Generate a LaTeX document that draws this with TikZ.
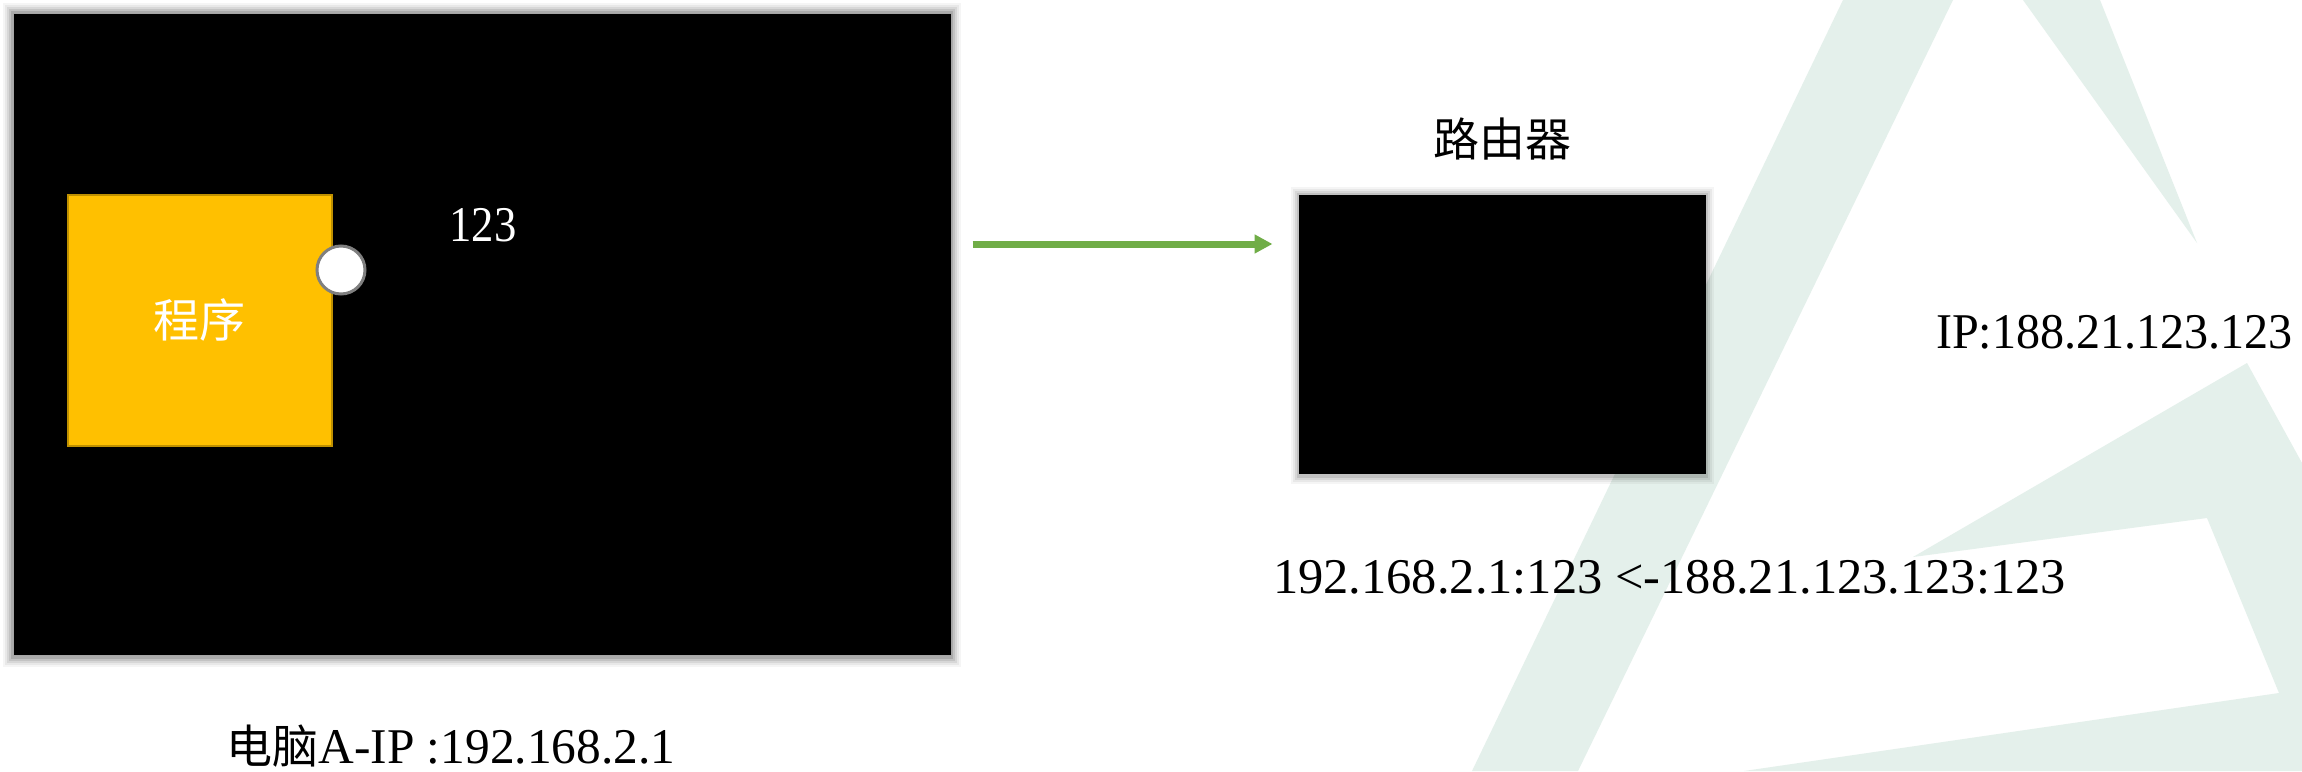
\documentclass[tikz,border=0pt]{standalone}
\usepackage{fontspec}
\setmainfont{Liberation Serif}
\newfontfamily\cjk{Noto Sans CJK SC}
\usepackage{graphicx}
\usetikzlibrary{arrows.meta,calc}
\definecolor{bgmint}{RGB}{228,240,235}
\definecolor{ppyellow}{RGB}{255,192,0}
\definecolor{ppyellowdark}{RGB}{191,144,0}
\definecolor{ppgreen}{RGB}{112,173,71}
\definecolor{ppgrey}{RGB}{127,127,127}
\newcommand\latw[2]{\resizebox{#1}{\height}{#2}}
\begin{document}
\begin{tikzpicture}[x=0.5pt,y=-0.5pt,
  cjktext/.style={inner sep=0pt, font=\cjk\fontsize{23}{23}\selectfont},
  lattext/.style={inner sep=0pt, font=\fontsize{25}{25}\selectfont},
  blackbox/.style={fill=black, draw=gray!70, line width=0.5pt, inner sep=0pt},
  progbox/.style={fill=ppyellow, draw=ppyellowdark, line width=1pt, inner sep=0pt},
  portdot/.style={circle, fill=white, draw=ppgrey, line width=1.5pt, minimum size=24pt, inner sep=0pt},
  greenarrow/.style={draw=ppgreen, line width=3.5pt, -{Triangle[length=9pt,width=9pt]}}]
\useasboundingbox (0,0) rectangle (2302,771);
\fill[white] (0,0) rectangle (2302,771);
% background logo shapes
\fill[bgmint] (1843,0) -- (1953,0) -- (1578,771) -- (1472,771) -- cycle;
\fill[bgmint] (2023,0) -- (2100,0) -- (2197,243) -- cycle;
\fill[bgmint] (1913,557) -- (2247,363) -- (2302,463) -- (2302,771) -- (1744,771) -- (2279,693) -- (2207,518) -- cycle;
% computer box
\coordinate (pcc) at (482,334);
\foreach \d/\o in {10/0.04,8/0.05,6/0.07,4/0.09,2/0.12}
  \fill[black,opacity=\o] ($(pcc)+(-469-\d,-321-\d)$) rectangle ($(pcc)+(469+\d,321+\d+2)$);
\node[blackbox, minimum width=469pt, minimum height=321pt] (pc) at (pcc) {};
\node[progbox, minimum width=132pt, minimum height=125.5pt] (prog) at (200,320.5) {};
\node[cjktext, text=white] (progtext) at (199,320) {程序};
\node[portdot] (port) at (341,270) {};
\node[lattext, text=white] (portnum) at (483,225) {\latw{33.5pt}{123}};
% router box
\coordinate (rtc) at (1502.5,334.5);
\foreach \d/\o in {8/0.04,6/0.05,4/0.07,2/0.1}
  \fill[black,opacity=\o] ($(rtc)+(-203.5-\d,-139.5-\d)$) rectangle ($(rtc)+(203.5+\d,139.5+\d+2)$);
\node[blackbox, draw=none, minimum width=203.5pt, minimum height=139.5pt] (router) at (rtc) {};
\node[cjktext] (routerlabel) at (1502,139) {路由器};
% arrow
\coordinate (arrowy) at (0,244);
\draw[greenarrow, shorten <=10.5pt, shorten >=13pt] (pc.east |- arrowy) -- (router.west |- arrowy);
% texts
\node[lattext] (publicip) at (2114.5,332) {\latw{178.5pt}{IP:188.21.123.123}};
\node[lattext] (mapping) at (1669.5,577) {\latw{396.5pt}{192.168.2.1:123 <-188.21.123.123:123}};
\node[cjktext, anchor=base west] (pclabel) at (226,763) {电脑{\rmfamily\fontsize{25}{25}\selectfont\latw{178.5pt}{A-IP :192.168.2.1}}};
\end{tikzpicture}
\end{document}
